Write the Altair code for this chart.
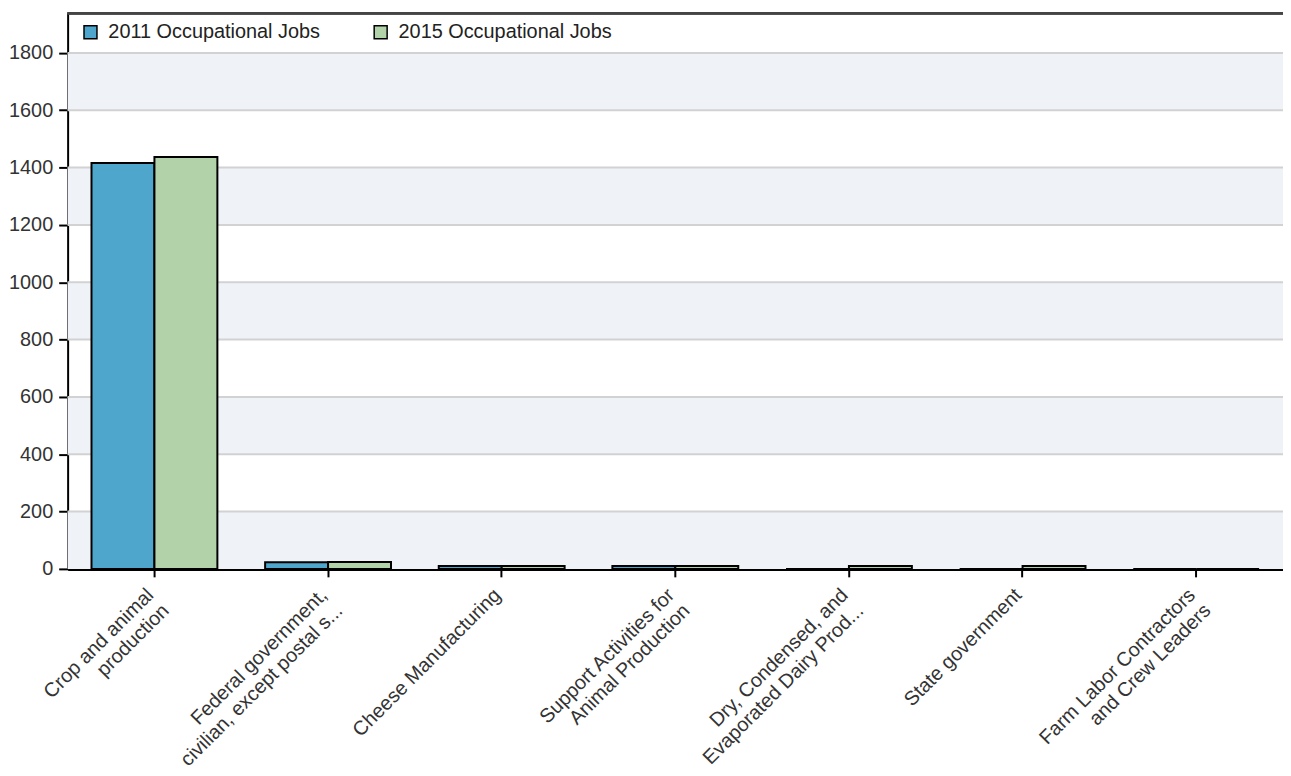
import altair as alt
import pandas as pd

categories = [
    "Crop and animal\nproduction",
    "Federal government,\ncivilian, except postal s...",
    "Cheese Manufacturing",
    "Support Activities for\nAnimal Production",
    "Dry, Condensed, and\nEvaporated Dairy Prod...",
    "State government",
    "Farm Labor Contractors\nand Crew Leaders",
]
series = ["2011 Occupational Jobs", "2015 Occupational Jobs"]
jobs_2011 = [1416, 23, 10, 10, 0, 0, 0]
jobs_2015 = [1437, 24, 10, 10, 10, 10, 0]
y_ticks = [0, 200, 400, 600, 800, 1000, 1200, 1400, 1600, 1800]
band_starts = [0, 400, 800, 1200, 1600]
band_size = 200
y_max = 1938

colors = ["#4FA6CC", "#B2D2AA"]
FONT = "Liberation Sans"
W, H = 1223, 559

rows = []
for c, a, b in zip(categories, jobs_2011, jobs_2015):
    rows.append({"category": c, "series": series[0], "value": a})
    rows.append({"category": c, "series": series[1], "value": b})
df = pd.DataFrame(rows)

bands = pd.DataFrame({"start": band_starts, "end": [s + band_size for s in band_starts]})
grid = pd.DataFrame({"v": [t for t in y_ticks if t > 0]})

yscale = alt.Scale(domain=[0, y_max], nice=False, zero=True)
yaxis = alt.Axis(
    title=None,
    values=y_ticks,
    format="d",
    labelFont=FONT,
    labelFontSize=20,
    labelColor="#333333",
    labelPadding=6,
    tickColor="black",
    tickSize=9,
    tickWidth=2,
    domainColor="black",
    domainWidth=2,
    grid=False,
)

band_layer = alt.Chart(bands).mark_rect(color="#EFF3F8").encode(
    y=alt.Y("start:Q", scale=yscale, axis=yaxis),
    y2="end:Q",
    x=alt.value(0),
    x2=alt.value(W),
)

grid_layer = alt.Chart(grid).mark_rule(color="#D2D2D2", strokeWidth=2).encode(
    y=alt.Y("v:Q", scale=yscale, axis=yaxis),
    x=alt.value(0),
    x2=alt.value(W),
)

top_border = alt.Chart(grid).mark_rule(color="#444444", strokeWidth=2).encode(
    y=alt.value(0),
    x=alt.value(0),
    x2=alt.value(W),
)

bars = alt.Chart(df).mark_bar(stroke="black", strokeWidth=2, opacity=1).encode(
    x=alt.X(
        "category:N",
        sort=categories,
        scale=alt.Scale(paddingInner=0.275, paddingOuter=0.1375),
        axis=alt.Axis(
            title=None,
            labelAngle=-45,
            labelAlign="right",
            labelBaseline="bottom",
            labelExpr="split(datum.label, '\\n')",
            labelFont=FONT,
            labelFontSize=20,
            labelColor="#333333",
            labelLineHeight=22,
            labelLimit=500,
            labelPadding=22,
            labelOffset=3,
            tickColor="black",
            tickSize=8,
            tickWidth=2,
            domainColor="black",
            domainWidth=3,
            grid=False,
        ),
    ),
    xOffset=alt.XOffset("series:N", sort=series),
    y=alt.Y("value:Q", scale=yscale, axis=yaxis),
    color=alt.Color(
        "series:N",
        sort=series,
        scale=alt.Scale(domain=series, range=colors),
        legend=alt.Legend(
            title=None,
            orient="none",
            legendX=13,
            legendY=9,
            direction="horizontal",
            symbolType="square",
            symbolSize=170,
            symbolStrokeColor="black",
            symbolStrokeWidth=1.5,
            symbolOpacity=1,
            labelFont=FONT,
            labelFontSize=20,
            labelColor="#222222",
            labelOffset=8,
            labelLimit=500,
            columnPadding=50,
            padding=0,
        ),
    ),
)

chart = alt.layer(band_layer, grid_layer, bars, top_border).resolve_scale(y="shared").properties(
    width=W,
    height=H,
    padding={"left": 60, "top": 3, "right": 0, "bottom": 206},
    autosize=alt.AutoSizeParams(type="none"),
    background="white",
).configure_view(stroke=None)

chart.save("out.html", embed_options={"renderer": "svg", "actions": False})
